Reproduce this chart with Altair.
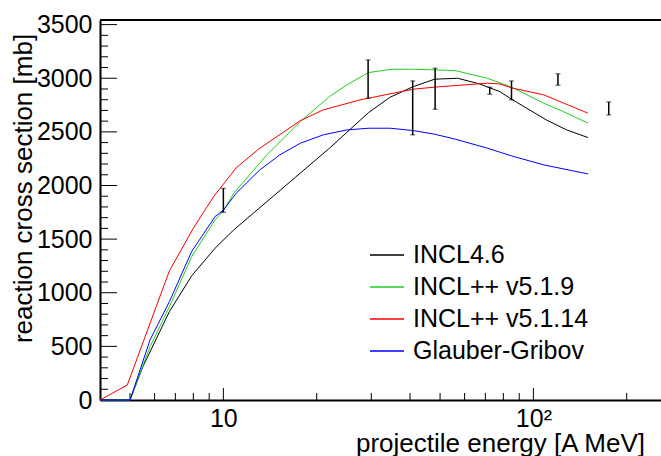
import altair as alt
import pandas as pd

FONT = "Liberation Sans"

MODELS = ["INCL4.6", "INCL++ v5.1.9", "INCL++ v5.1.14", "Glauber-Gribov"]
COLORS = ["#000000", "#22cc22", "#ff0000", "#0000ff"]

# projectile energy [A MeV] and reaction cross section [mb]
E_INCL46 = [4, 5, 5.5, 6.7, 7.9, 9.4, 10.8, 22, 29.4, 34.5, 41, 48, 57, 67, 78, 85, 110, 128, 150]
XS_INCL46 = [0, 0, 311, 825, 1157, 1415, 1586, 2348, 2680, 2823, 2922, 2991, 3000, 2947, 2875, 2805, 2612, 2518, 2447]

E_V519 = [4, 5, 5.8, 6.7, 7.9, 9.4, 10, 10.8, 13.8, 17.7, 22, 25, 29.4, 35, 41, 48, 56, 71, 85, 108, 125, 150]
XS_V519 = [0, 0, 497, 870, 1335, 1679, 1765, 1928, 2285, 2596, 2829, 2938, 3053, 3084, 3084, 3078, 3071, 3000, 2917, 2767, 2689, 2581]

E_V5114 = [4, 4.9, 6.7, 8, 9.3, 11, 13, 17.7, 21, 27.6, 29.4, 41, 48, 71, 78, 85, 108, 150]
XS_V5114 = [0, 140, 1205, 1601, 1896, 2165, 2340, 2604, 2705, 2798, 2814, 2898, 2917, 2954, 2947, 2910, 2845, 2674]

E_GG = [4, 5, 5.8, 6.7, 7.9, 9.4, 10, 11, 13.1, 15.2, 17.7, 21, 25, 29.4, 34.5, 41, 48, 56, 71, 85, 108, 150]
XS_GG = [0, 0, 560, 918, 1384, 1710, 1770, 1928, 2145, 2285, 2394, 2472, 2518, 2534, 2534, 2512, 2478, 2432, 2348, 2276, 2192, 2108]

# experimental points (error bars)
EXP_E = [10, 29.3, 40.8, 48.2, 72.3, 85, 120, 175]
EXP_LO = [1750, 2814, 2472, 2711, 2851, 2798, 2935, 2658]
EXP_HI = [1974, 3171, 2975, 3094, 2917, 2975, 3041, 2779]

# axis ticks
X_LABELS = [10, 100]
X_MINOR = [5, 6, 7, 8, 9, 20, 30, 40, 50, 60, 70, 80, 90, 200]
Y_MAJOR = [0, 500, 1000, 1500, 2000, 2500, 3000, 3500]
Y_MINOR = [v for v in range(0, 3501, 100) if v % 500 != 0]

W, H = 561, 380

rows = []
for name, es, xs in zip(MODELS, [E_INCL46, E_V519, E_V5114, E_GG],
                        [XS_INCL46, XS_V519, XS_V5114, XS_GG]):
    for e, v in zip(es, xs):
        rows.append({"model": name, "E": e, "xs": v})
curves = pd.DataFrame(rows)
exp = pd.DataFrame({"E": EXP_E, "lo": EXP_LO, "hi": EXP_HI})

xscale = alt.Scale(type="log", domain=[4, 258], nice=False)
yscale = alt.Scale(domain=[0, 3543], nice=False, zero=False)

XAXIS = alt.Axis(orient="bottom", values=X_LABELS, ticks=False, grid=False,
                 labelExpr="datum.value == 100 ? '10²' : format(datum.value, 'd')",
                 labelFont=FONT, labelFontSize=25, labelColor="black",
                 labelPadding=6, labelFlush=False, labelOverlap=False,
                 domainColor="black", domainWidth=2,
                 title="projectile energy [A MeV]", titleFont=FONT,
                 titleFontSize=26, titleFontWeight="normal", titleColor="black",
                 titleAlign="center", titleX=400, titleY=51,
                 titleBaseline="alphabetic")
YAXIS = alt.Axis(orient="left", values=Y_MAJOR, ticks=False, grid=False,
                 format="d", labelFont=FONT, labelFontSize=25,
                 labelColor="black", labelPadding=8, labelFlush=False,
                 labelOverlap=False, domainColor="black", domainWidth=2,
                 title="reaction cross section [mb]", titleFont=FONT,
                 titleFontSize=26, titleFontWeight="normal", titleColor="black",
                 titleAngle=270, titleAlign="center", titleX=-69, titleY=168,
                 titleBaseline="alphabetic")


def X(field):
    return alt.X(field, type="quantitative", scale=xscale, axis=XAXIS)


def Y(field):
    return alt.Y(field, type="quantitative", scale=yscale, axis=YAXIS)


lines = alt.Chart(curves).mark_line(strokeWidth=1).encode(
    x=X("E"),
    y=Y("xs"),
    color=alt.Color("model:N", sort=MODELS,
                    scale=alt.Scale(domain=MODELS, range=COLORS),
                    legend=alt.Legend(orient="none", legendX=269, legendY=219,
                                      title=None, symbolType="stroke",
                                      symbolSize=1156, symbolStrokeWidth=1.5,
                                      labelFont=FONT, labelFontSize=25,
                                      labelColor="black", labelOffset=8,
                                      rowPadding=0, clipHeight=32, padding=0,
                                      labelLimit=400)),
)

bars = alt.Chart(exp).mark_rule(color="black", strokeWidth=1.5).encode(
    x=X("E"), y=Y("lo"), y2="hi:Q",
)
caps_lo = alt.Chart(exp).mark_tick(orient="horizontal", color="black", size=5, thickness=1).encode(
    x=X("E"), y=Y("lo"),
)
caps_hi = alt.Chart(exp).mark_tick(orient="horizontal", color="black", size=5, thickness=1).encode(
    x=X("E"), y=Y("hi"),
)

xt_major = alt.Chart(pd.DataFrame({"v": X_LABELS})).mark_rule(color="black", strokeWidth=1).encode(
    x=X("v"), y=alt.value(H), y2=alt.value(H - 12))
xt_minor = alt.Chart(pd.DataFrame({"v": X_MINOR})).mark_rule(color="black", strokeWidth=1).encode(
    x=X("v"), y=alt.value(H), y2=alt.value(H - 7))
yt_major = alt.Chart(pd.DataFrame({"v": Y_MAJOR})).mark_rule(color="black", strokeWidth=1).encode(
    y=Y("v"), x=alt.value(0), x2=alt.value(17))
yt_minor = alt.Chart(pd.DataFrame({"v": Y_MINOR})).mark_rule(color="black", strokeWidth=1).encode(
    y=Y("v"), x=alt.value(0), x2=alt.value(8))

# top edge of the frame
frame_top = alt.Chart(pd.DataFrame({"k": [0]})).mark_rule(color="black", strokeWidth=2).encode(
    x=alt.value(0), x2=alt.value(W), y=alt.value(0))

chart = alt.layer(
    xt_minor, xt_major, yt_minor, yt_major, lines, bars, caps_lo, caps_hi, frame_top
).properties(
    width=W, height=H,
    autosize=alt.AutoSizeParams(type="none"),
    padding={"left": 100, "top": 20, "right": 0, "bottom": 56},
    background="white",
).configure_view(stroke=None).configure(font=FONT)

chart.save("out.html", embed_options={"renderer": "svg", "actions": False})
